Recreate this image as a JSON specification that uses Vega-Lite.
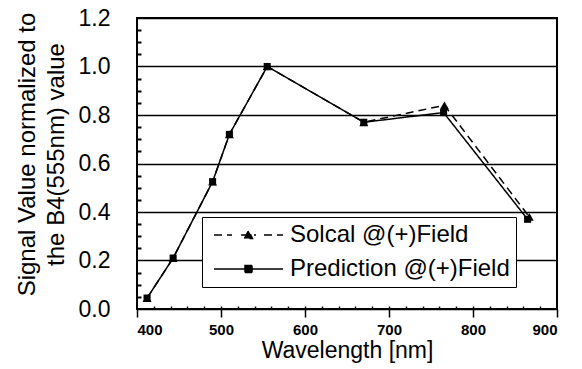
{
  "$schema": "https://vega.github.io/schema/vega-lite/v6.json",
  "autosize": {"type": "none"},
  "padding": {"left": 137, "top": 18, "right": 25, "bottom": 60},
  "width": 420,
  "height": 291,
  "background": "white",
  "config": {
    "view": {"stroke": "black", "strokeWidth": 2},
    "font": "Liberation Sans",
    "axis": {"tickColor": "black", "labelColor": "black", "titleColor": "black", "domainColor": "black"}
  },
  "data": {
    "values": [
      {"wavelength": 412, "value": 0.045, "series": "Solcal @(+)Field"},
      {"wavelength": 443, "value": 0.21, "series": "Solcal @(+)Field"},
      {"wavelength": 490, "value": 0.525, "series": "Solcal @(+)Field"},
      {"wavelength": 510, "value": 0.72, "series": "Solcal @(+)Field"},
      {"wavelength": 555, "value": 1.0, "series": "Solcal @(+)Field"},
      {"wavelength": 670, "value": 0.77, "series": "Solcal @(+)Field"},
      {"wavelength": 766, "value": 0.84, "series": "Solcal @(+)Field"},
      {"wavelength": 867, "value": 0.38, "series": "Solcal @(+)Field"},
      {"wavelength": 412, "value": 0.045, "series": "Prediction @(+)Field"},
      {"wavelength": 443, "value": 0.21, "series": "Prediction @(+)Field"},
      {"wavelength": 490, "value": 0.525, "series": "Prediction @(+)Field"},
      {"wavelength": 510, "value": 0.72, "series": "Prediction @(+)Field"},
      {"wavelength": 555, "value": 1.0, "series": "Prediction @(+)Field"},
      {"wavelength": 670, "value": 0.77, "series": "Prediction @(+)Field"},
      {"wavelength": 765, "value": 0.81, "series": "Prediction @(+)Field"},
      {"wavelength": 865, "value": 0.37, "series": "Prediction @(+)Field"}
    ]
  },
  "layer": [
    {
      "mark": {"type": "line", "color": "black", "strokeWidth": 1.5},
      "encoding": {
        "x": {
          "field": "wavelength", "type": "quantitative",
          "scale": {"domain": [400, 900], "nice": false},
          "axis": {
            "values": [400, 500, 600, 700, 800, 900],
            "tickSize": 8, "tickWidth": 1.5, "domain": false, "grid": false,
            "labelFont": "Liberation Sans", "labelFontSize": 15, "labelFontWeight": "bold",
            "labelPadding": 5,
            "title": "Wavelength [nm]", "titleFontSize": 23, "titleFontWeight": "normal",
            "titlePadding": 2
          }
        },
        "y": {
          "field": "value", "type": "quantitative",
          "scale": {"domain": [0, 1.2], "nice": false},
          "axis": {
            "values": [0, 0.2, 0.4, 0.6, 0.8, 1.0, 1.2],
            "format": ".1f",
            "grid": true, "gridColor": "black", "gridWidth": 1.5, "gridOpacity": 1,
            "ticks": false, "tickSize": 0, "domain": false,
            "labelFontSize": 23, "labelPadding": 27,
            "title": ["Signal Value normalized to", "the B4(555nm) value"],
            "titleFontSize": 24, "titleFontWeight": "normal", "titleLimit": 0,
            "titleAngle": -90, "titleX": -122, "titleY": 136,
            "titleAlign": "center", "titleBaseline": "top", "titleLineHeight": 29
          }
        },
        "strokeDash": {
          "field": "series", "type": "nominal",
          "scale": {"domain": ["Solcal @(+)Field", "Prediction @(+)Field"], "range": [[8, 5], [1, 0]]},
          "legend": {
            "orient": "none", "legendX": 65, "legendY": 199,
            "title": null,
            "strokeColor": "black", "fillColor": "white", "padding": 6,
            "labelFontSize": 24, "labelColor": "black", "labelLimit": 0,
            "symbolSize": 100, "labelOffset": 58, "rowPadding": 10,
            "symbolStrokeWidth": 1.5, "symbolStrokeColor": "black", "symbolFillColor": "black",
            "symbolDash": [1, 0],
            "encode": {
              "symbols": {
                "update": {
                  "shape": [
                    {"test": "datum.value === 'Solcal @(+)Field'", "value": "M-1.2,0H2.4M8.8,0H12.6M4.2,0H7.2M4.9,0.7L5.7,-0.9L6.5,0.7Z"},
                    {"value": "M-1.2,0H5.0M6.4,0H12.6M5.0,-0.7H6.4V0.7H5.0Z"}
                  ],
                  "strokeDash": {"value": [1, 0]},
                  "fill": {"value": "black"},
                  "stroke": {"value": "black"}
                }
              }
            }
          }
        }
      }
    },
    {
      "transform": [{"filter": "datum.series === 'Solcal @(+)Field'"}],
      "mark": {"type": "point", "shape": "triangle-up", "filled": true, "color": "black", "opacity": 1, "size": 80},
      "encoding": {
        "x": {
          "field": "wavelength", "type": "quantitative",
          "axis": {
            "orient": "top", "offset": -291,
            "values": [420, 440, 460, 480, 500, 520, 540, 560, 580, 600, 620, 640, 660, 680, 700, 720, 740, 760, 780, 800, 820, 840, 860, 880],
            "tickSize": 3, "tickWidth": 1.5, "labels": false, "domain": false, "grid": false, "title": null
          }
        },
        "y": {
          "field": "value", "type": "quantitative",
          "axis": {
            "orient": "right", "offset": -420,
            "values": [0.05, 0.1, 0.15, 0.25, 0.3, 0.35, 0.45, 0.5, 0.55, 0.65, 0.7, 0.75, 0.85, 0.9, 0.95, 1.05, 1.1, 1.15],
            "tickSize": 4, "tickWidth": 2, "labels": false, "domain": false, "grid": false, "title": null
          }
        }
      }
    },
    {
      "transform": [{"filter": "datum.series === 'Prediction @(+)Field'"}],
      "mark": {"type": "point", "shape": "square", "filled": true, "color": "black", "opacity": 1, "size": 50},
      "encoding": {
        "x": {"field": "wavelength", "type": "quantitative", "axis": null},
        "y": {"field": "value", "type": "quantitative", "axis": null}
      }
    }
  ],
  "resolve": {"axis": {"x": "independent", "y": "independent"}}
}
